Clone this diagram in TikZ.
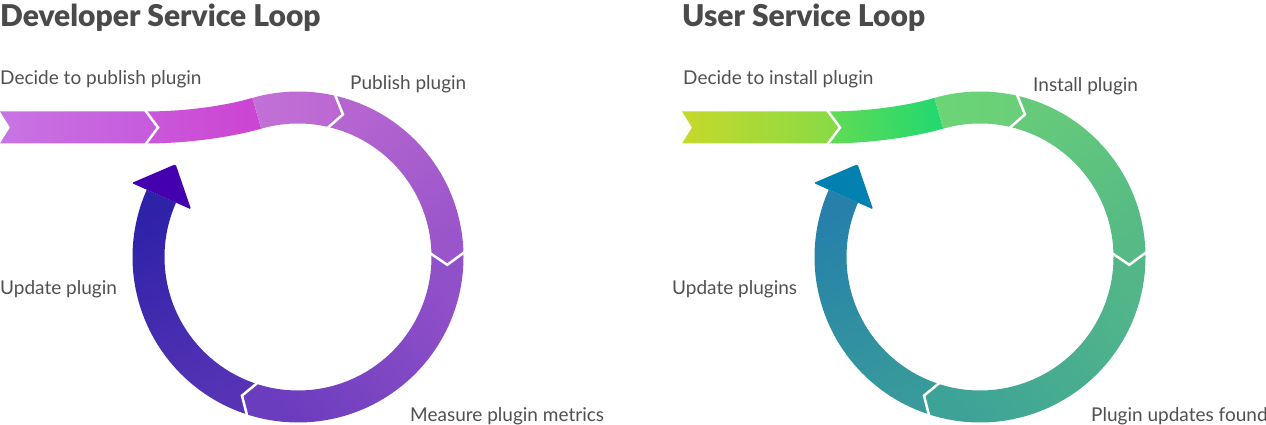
\documentclass[tikz,border=0pt]{standalone}
\usepackage{fontspec}
\setmainfont{Lato}
\IfFontExistsTF{Lato Black}
    {\newfontfamily\titlefont{Lato Black}}
    {\newfontfamily\titlefont{Lato}[UprightFont=*-Bold]}
\usetikzlibrary{positioning}

\definecolor{textgray}{HTML}{505050}
\definecolor{titlegray}{HTML}{4A4A4A}
% developer loop
\definecolor{dev1a}{HTML}{C874E4}
\definecolor{dev1b}{HTML}{C65ADB}
\definecolor{dev2a}{HTML}{CA58DA}
\definecolor{dev2b}{HTML}{CC44D3}
\definecolor{dev3a}{HTML}{C172D6}
\definecolor{dev3b}{HTML}{BC66D2}
\definecolor{dev4a}{HTML}{B465D0}
\definecolor{dev4b}{HTML}{9A55CA}
\definecolor{dev5a}{HTML}{9050C8}
\definecolor{dev5b}{HTML}{6A3CBE}
\definecolor{dev6a}{HTML}{5633B5}
\definecolor{dev6b}{HTML}{2E22A8}
\definecolor{devtip}{HTML}{4400AE}
% user loop
\definecolor{usr1a}{HTML}{C6D92A}
\definecolor{usr1b}{HTML}{86DA47}
\definecolor{usr2a}{HTML}{60DB55}
\definecolor{usr2b}{HTML}{22D870}
\definecolor{usr3a}{HTML}{6CD576}
\definecolor{usr3b}{HTML}{6ACE78}
\definecolor{usr4a}{HTML}{66CA7A}
\definecolor{usr4b}{HTML}{55BA85}
\definecolor{usr5a}{HTML}{52B689}
\definecolor{usr5b}{HTML}{3DA397}
\definecolor{usr6a}{HTML}{389A9B}
\definecolor{usr6b}{HTML}{2680AA}
\definecolor{usrtip}{HTML}{0280B0}

\def\rOut{165.5}
\def\rIn{133.5}
\def\rMid{149.5}

\tikzset{
    looptext/.style={anchor=base west, inner sep=0pt, text=textgray,
        font=\fontsize{19}{23}\selectfont},
    looptitle/.style={anchor=base west, inner sep=0pt, text=titlegray,
        font=\fontsize{30}{36}\titlefont},
    sepline/.style={white, line width=2.5pt},
    segshade/.style n args={3}{bottom color=#1, top color=#2, shading angle=#3},
}

\begin{document}
\begin{tikzpicture}[x=1pt, y=1pt]
    \useasboundingbox (0,0) rectangle (1266,425);
    \foreach \lp/\xs in {dev/0, usr/682} {
        \begin{scope}[shift={(\xs+298,168)}]
            % straight band
            \shade[segshade={\lp1a}{\lp1b}{-90}]
                (-298,145.5) -- (-153,145.5) -- (-140,129.5) -- (-153,113.5)
                -- (-298,113.5) -- (-288,129.5) -- cycle;
            % curved band
            \shade[segshade={\lp2a}{\lp2b}{-85}]
                (-153,145.5) .. controls (-108,145.5) and (-69.6,152.2) .. (106:\rOut)
                -- (106:\rIn) .. controls (-60.8,121.4) and (-105,113.5) .. (-153,113.5)
                -- (-140,129.5) -- cycle;
            % ring
            \shade[segshade={\lp3a}{\lp3b}{-88}]
                (106:\rOut) arc[start angle=106, end angle=77.5, radius=\rOut]
                -- (72.5:\rMid) -- (77.5:\rIn)
                arc[start angle=77.5, end angle=106, radius=\rIn] -- cycle;
            \shade[segshade={\lp4a}{\lp4b}{-140}]
                (77.5:\rOut) arc[start angle=77.5, end angle=2, radius=\rOut]
                -- (-3:\rMid) -- (2:\rIn)
                arc[start angle=2, end angle=77.5, radius=\rIn]
                -- (72.5:\rMid) -- cycle;
            \shade[segshade={\lp5a}{\lp5b}{127}]
                (2:\rOut) arc[start angle=2, end angle=-107.5, radius=\rOut]
                -- (-112:\rMid) -- (-107.5:\rIn)
                arc[start angle=-107.5, end angle=2, radius=\rIn]
                -- (-3:\rMid) -- cycle;
            \shade[segshade={\lp6a}{\lp6b}{24}]
                (-107.5:\rOut) arc[start angle=-107.5, end angle=-204, radius=\rOut]
                -- (-204:\rIn)
                arc[start angle=-204, end angle=-107.5, radius=\rIn]
                -- (-112:\rMid) -- cycle;
            % arrow head
            \fill[\lp tip, rounded corners=1.5pt]
                (156:117) -- (156:182) -- (-122.4,92.8) -- cycle;
            % separators
            \draw[sepline] (-153,147) -- (-140,129.5) -- (-153,112);
            \draw[sepline] (77.5:168) -- (72.5:\rMid) -- (77.5:131);
            \draw[sepline] (2:168) -- (-3:\rMid) -- (2:131);
            \draw[sepline] (-107.5:168) -- (-112:\rMid) -- (-107.5:131);
        \end{scope}
    }
    % titles
    \node[looptitle] (devtitle) at (0,398) {Developer Service Loop};
    \node[looptitle] (usrtitle) at (682,398) {User Service Loop};
    % labels
    \node[looptext] (decidepub) at (0,340) {Decide to publish plugin};
    \node[looptext] (publish) at (350,335) {Publish plugin};
    \node[looptext] (updatedev) at (0,130) {Update plugin};
    \node[looptext] (measure) at (410,3) {Measure plugin metrics};
    \node[looptext] (decideinst) at (683,340) {Decide to install plugin};
    \node[looptext] (install) at (1033,333) {Install plugin};
    \node[looptext] (updateusr) at (672,130) {Update plugins};
    \node[looptext] (updfound) at (1091,3) {Plugin updates found};
\end{tikzpicture}
\end{document}
